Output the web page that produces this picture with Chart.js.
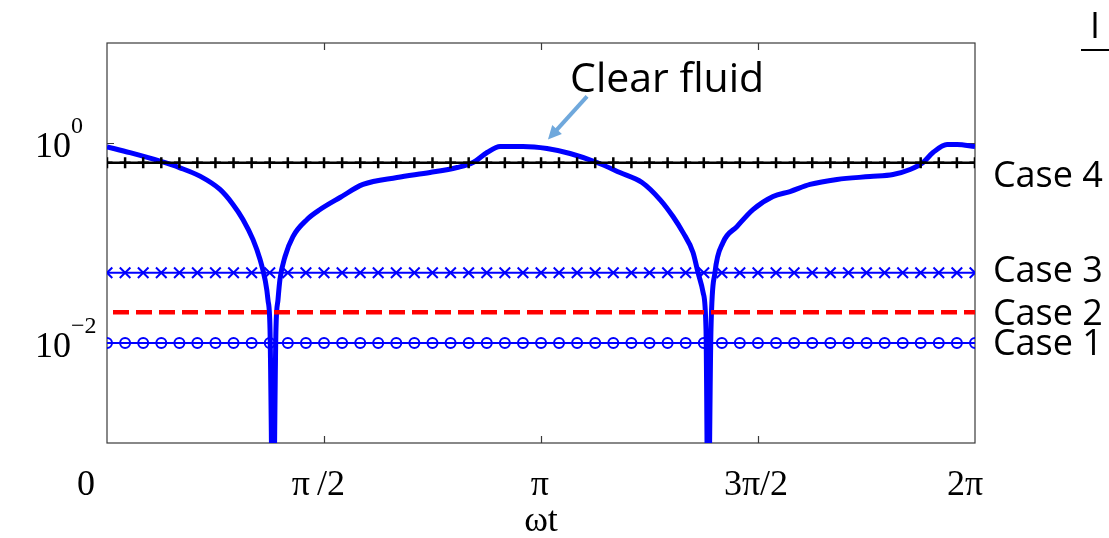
<!DOCTYPE html>
<html>
<head>
<meta charset="utf-8">
<script src="https://cdn.jsdelivr.net/npm/chart.js@4.4.1/dist/chart.umd.min.js"></script>
<style>
  html, body { margin: 0; padding: 0; background: #fff; }
  canvas { display: block; }
</style>
</head>
<body>
<canvas id="chart__1" width="1109" height="538"></canvas>
<script>
"use strict";

// clear fluid curve (x in rad, y on log scale)
const clearX = [0, 0.166, 0.384, 0.528, 0.673, 0.818, 0.912, 0.984, 1.057, 1.108, 1.144, 1.165, 1.180, 1.202,
  1.223, 1.238, 1.252, 1.289, 1.346, 1.448, 1.542, 1.687, 1.853, 2.099, 2.338, 2.534, 2.649, 2.751, 2.845,
  3.011, 3.185, 3.352, 3.547, 3.713, 3.873, 4.003, 4.097, 4.170, 4.242, 4.278, 4.315, 4.336, 4.351, 4.372,
  4.401, 4.459, 4.560, 4.676, 4.821, 4.944, 5.089, 5.284, 5.523, 5.690, 5.813, 5.907, 5.979, 6.081, 6.153, 6.283];
const clearY = [0.916, 0.80, 0.658, 0.565, 0.466, 0.343, 0.243, 0.172, 0.108, 0.0684, 0.0432, 0.0272, 0.0136, 0.0001,
  0.0136, 0.0272, 0.0432, 0.0733, 0.116, 0.172, 0.216, 0.285, 0.385, 0.452, 0.507, 0.569, 0.638, 0.803, 0.923,
  0.923, 0.881, 0.785, 0.638, 0.507, 0.403, 0.272, 0.184, 0.127, 0.0804, 0.0507, 0.032, 0.0136, 0.0001, 0.0136,
  0.0507, 0.101, 0.146, 0.216, 0.292, 0.327, 0.385, 0.432, 0.462, 0.484, 0.543, 0.638, 0.803, 0.966, 0.966, 0.923];

// marker positions of the constant cases
const markerX = [0, 0.131, 0.262, 0.393, 0.524, 0.654, 0.785, 0.916, 1.047, 1.178, 1.309, 1.440, 1.571,
  1.702, 1.833, 1.963, 2.094, 2.225, 2.356, 2.487, 2.618, 2.749, 2.880, 3.011, 3.142, 3.272, 3.403, 3.534,
  3.665, 3.796, 3.927, 4.058, 4.189, 4.320, 4.451, 4.581, 4.712, 4.843, 4.974, 5.105, 5.236, 5.367, 5.498,
  5.629, 5.760, 5.890, 6.021, 6.152, 6.283];
const case4Value = 0.634;
const case3Value = 0.0504;
const case2Value = 0.0203;
const case1Value = 0.01;
const case2X = [0, 6.283];

const caseNames = ["Case 4", "Case 3", "Case 2", "Case 1"];
const caseLabelY = [0.359, 0.0403, 0.0153, 0.00767];
const caseLabelX = 6.413;

const xTickVals = [Math.PI / 2, Math.PI, 3 * Math.PI / 2];
const xTickLabels = ["0", "π\u2009/2", "π", "3π/2", "2π"];
const xTickLabelPos = [-0.152, 1.53, 3.134, 4.698, 6.211];
const yTickVals = [1, 0.01];
const yTickExp = ["0", "−2"];

const annotText = "Clear fluid";
const annotTextPos = [3.352, 3.27];
const arrowTail = [3.475, 2.92];
const arrowTip = [3.192, 1.084];

const toPoints = (xs, ys) => xs.map((x, i) => ({ x: x, y: ys[i] }));
const flat = (xs, v) => xs.map((x) => ({ x: x, y: v }));

const decor = {
  id: "decor",
  beforeDraw(chart) {
    const c = chart.ctx;
    c.save();
    c.fillStyle = "#fff";
    c.fillRect(0, 0, chart.width, chart.height);
    c.restore();
  },
  beforeDatasetsDraw(chart) {
    const c = chart.ctx;
    const a = chart.chartArea;
    const xs = chart.scales.x;
    const ys = chart.scales.y;
    c.save();
    c.strokeStyle = "#3a3a3a";
    c.lineWidth = 1.2;
    c.strokeRect(a.left, a.top, a.right - a.left, a.bottom - a.top);
    c.beginPath();
    xTickVals.forEach((v) => {
      const px = Math.round(xs.getPixelForValue(v)) + 0.5;
      c.moveTo(px, a.bottom); c.lineTo(px, a.bottom - 7);
      c.moveTo(px, a.top); c.lineTo(px, a.top + 7);
    });
    yTickVals.forEach((v) => {
      const py = Math.round(ys.getPixelForValue(v)) + 0.5;
      c.moveTo(a.left, py); c.lineTo(a.left + 7, py);
      c.moveTo(a.right, py); c.lineTo(a.right - 7, py);
    });
    c.stroke();
    c.restore();
  },
  afterDraw(chart) {
    const c = chart.ctx;
    const a = chart.chartArea;
    const xs = chart.scales.x;
    const ys = chart.scales.y;
    c.save();
    c.fillStyle = "#000";
    // x tick labels
    c.font = "36px 'Liberation Serif'";
    c.textAlign = "center";
    c.textBaseline = "alphabetic";
    xTickLabels.forEach((t, i) => {
      c.fillText(t, xs.getPixelForValue(xTickLabelPos[i]), a.bottom + 52);
    });
    // x title
    c.font = "36px 'Liberation Serif'";
    c.fillText("ωt", (a.left + a.right) / 2, a.bottom + 88);
    // y tick labels 10^n
    yTickVals.forEach((v, i) => {
      const py = ys.getPixelForValue(v);
      c.font = "36px 'Liberation Serif'";
      c.textAlign = "right";
      c.fillText("10", a.left - 36, py + 13.5);
      c.font = "24px 'Liberation Serif'";
      c.textAlign = "left";
      c.fillText(yTickExp[i], a.left - 36, py - 10.5);
    });
    // case labels
    c.font = "36px 'Open Sans'";
    c.textAlign = "left";
    caseNames.forEach((t, i) => {
      c.fillText(t, xs.getPixelForValue(caseLabelX), ys.getPixelForValue(caseLabelY[i]));
    });
    // annotation text and arrow
    c.font = "41px 'Open Sans'";
    c.fillText(annotText, xs.getPixelForValue(annotTextPos[0]), ys.getPixelForValue(annotTextPos[1]));
    const tx = xs.getPixelForValue(arrowTail[0]);
    const ty = ys.getPixelForValue(arrowTail[1]);
    const hx = xs.getPixelForValue(arrowTip[0]);
    const hy = ys.getPixelForValue(arrowTip[1]);
    const ang = Math.atan2(hy - ty, hx - tx);
    const headLen = 15;
    c.strokeStyle = "#6fa8dc";
    c.fillStyle = "#6fa8dc";
    c.lineWidth = 4;
    c.beginPath();
    c.moveTo(tx, ty);
    c.lineTo(hx - Math.cos(ang) * headLen * 0.8, hy - Math.sin(ang) * headLen * 0.8);
    c.stroke();
    c.beginPath();
    c.moveTo(hx, hy);
    c.lineTo(hx - headLen * Math.cos(ang - 0.45), hy - headLen * Math.sin(ang - 0.45));
    c.lineTo(hx - headLen * Math.cos(ang + 0.45), hy - headLen * Math.sin(ang + 0.45));
    c.closePath();
    c.fill();
    // cropped text at top right
    c.fillStyle = "#000";
    c.font = "36px 'Open Sans'";
    c.textAlign = "center";
    c.fillText("I", 1095, 38);
    c.fillRect(1081, 49, 28, 2);
    c.restore();
  },
};

const chartSelector__1 = document.getElementById("chart__1").getContext("2d");

const chartConfig = {
  type: "line",
  data: {
    datasets: [
      {
        label: "Case 2",
        data: flat(case2X, case2Value),
        borderColor: "#ff0000",
        borderWidth: 4.5,
        borderDash: [16, 7],
        borderDashOffset: 17,
        pointRadius: 0,
      },
      {
        label: "Case 4",
        data: flat(markerX, case4Value),
        borderColor: "#000000",
        borderWidth: 2.5,
        pointStyle: "cross",
        pointRadius: 5.5,
        pointBorderWidth: 2.5,
        pointBorderColor: "#000000",
      },
      {
        label: "Case 3",
        data: flat(markerX, case3Value),
        borderColor: "#0000ff",
        borderWidth: 2,
        pointStyle: "crossRot",
        pointRadius: 7.5,
        pointBorderWidth: 2,
        pointBorderColor: "#0000ff",
      },
      {
        label: "Case 1",
        data: flat(markerX, case1Value),
        borderColor: "#0000ff",
        borderWidth: 2,
        pointStyle: "circle",
        pointRadius: 5,
        pointBorderWidth: 2,
        pointBorderColor: "#0000ff",
        pointBackgroundColor: "rgba(0,0,0,0)",
      },
      {
        label: "Clear fluid",
        data: toPoints(clearX, clearY),
        borderColor: "#0000ff",
        borderWidth: 5,
        pointRadius: 0,
        cubicInterpolationMode: "monotone",
      },
    ],
  },
  options: {
    responsive: false,
    animation: false,
    events: [],
    layout: {
      padding: { left: 107, top: 43, right: 134, bottom: 95 },
    },
    plugins: {
      legend: { display: false },
      tooltip: { enabled: false },
    },
    scales: {
      x: {
        type: "linear",
        min: 0,
        max: 2 * Math.PI,
        display: false,
      },
      y: {
        type: "logarithmic",
        min: 0.001,
        max: 10,
        display: false,
      },
    },
  },
  plugins: [decor],
};

let chart__1 = new Chart(chartSelector__1, chartConfig);
</script>
</body>
</html>
